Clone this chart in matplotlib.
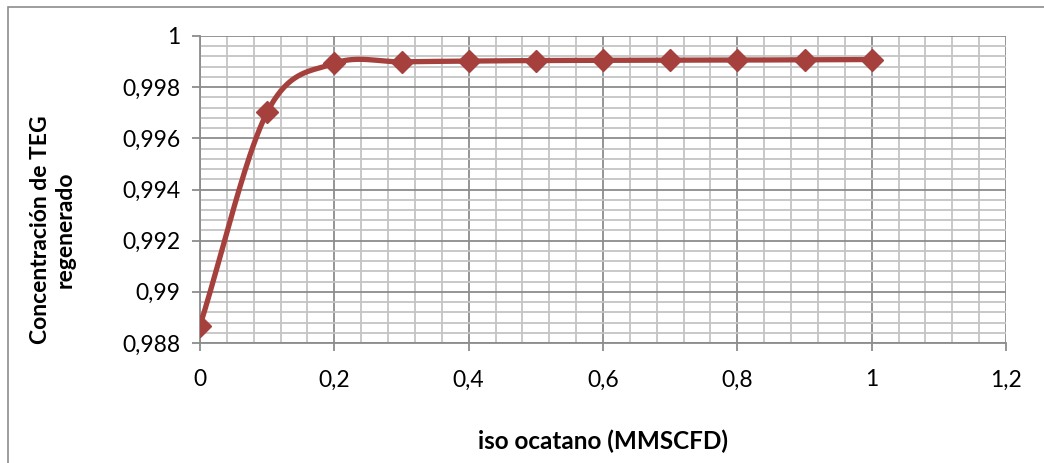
import numpy as np
import matplotlib
matplotlib.use("Agg")
import matplotlib.pyplot as plt
from matplotlib.ticker import FuncFormatter, MultipleLocator
from matplotlib.patches import Rectangle

plt.rcParams.update({"font.family": ["Lato", "DejaVu Sans"]})

# iso-octane flow vs regenerated TEG purity
iso_octano = [0.0, 0.1, 0.2, 0.3, 0.4, 0.5, 0.6, 0.7, 0.8, 0.9, 1.0]
conc_teg = [0.98868, 0.99702, 0.99893, 0.99899, 0.99902, 0.99904,
            0.99905, 0.99906, 0.99906, 0.99907, 0.99908]

RED = "#A5403D"
MAJOR = "#8C8C8C"
MINOR = "#C4C4C4"
W, H = 1044, 463


def smooth(x, y, n=40):
    # Catmull-Rom through the points, like a spreadsheet "smoothed line"
    x = np.asarray(x, float); y = np.asarray(y, float)
    px = np.concatenate([[2 * x[0] - x[1]], x, [2 * x[-1] - x[-2]]])
    py = np.concatenate([[2 * y[0] - y[1]], y, [2 * y[-1] - y[-2]]])
    xs, ys = [], []
    t = np.linspace(0, 1, n)
    for i in range(1, len(px) - 2):
        for p, out in ((px, xs), (py, ys)):
            p0, p1, p2, p3 = p[i - 1], p[i], p[i + 1], p[i + 2]
            out.extend(0.5 * ((2 * p1) + (-p0 + p2) * t
                              + (2 * p0 - 5 * p1 + 4 * p2 - p3) * t ** 2
                              + (-p0 + 3 * p1 - 3 * p2 + p3) * t ** 3))
    return xs, ys


def comma(v, pos):
    s = f"{v:.3f}".rstrip("0").rstrip(".")
    return s.replace(".", ",")


fig = plt.figure(figsize=(W / 100, H / 100), dpi=100)
fig.patches.append(Rectangle((8 / W, -0.01), 1.05, 1 - 7 / H + 0.01,
                             transform=fig.transFigure, fill=False,
                             edgecolor="#8C8C8C", linewidth=1.2))
ax = fig.add_axes([200 / W, 1 - 343 / H, 806 / W, 307 / H])

sx, sy = smooth(iso_octano, conc_teg)
ax.plot(sx, sy, color=RED, linewidth=3.8, solid_capstyle="round", zorder=3)
ax.plot(iso_octano, conc_teg, linestyle="none", marker="D", markersize=11,
        color=RED, zorder=4)

ax.set_xlim(0, 1.2)
ax.set_ylim(0.988, 1.0)
ax.xaxis.set_major_locator(MultipleLocator(0.2))
ax.xaxis.set_minor_locator(MultipleLocator(0.04))
ax.yaxis.set_major_locator(MultipleLocator(0.002))
ax.yaxis.set_minor_locator(MultipleLocator(0.0004))
ax.xaxis.set_major_formatter(FuncFormatter(comma))
ax.yaxis.set_major_formatter(FuncFormatter(comma))

ax.grid(True, which="minor", color=MINOR, linewidth=1.3)
ax.grid(True, which="major", color=MAJOR, linewidth=1.3)
ax.set_axisbelow(True)
for side in ("top", "right"):
    ax.spines[side].set_visible(False)
for side in ("left", "bottom"):
    ax.spines[side].set_color(MAJOR)
    ax.spines[side].set_linewidth(1.3)

ax.tick_params(which="major", length=6, width=1.3, color=MAJOR,
               labelsize=16.5, pad=8)
ax.tick_params(axis="x", which="major", pad=13)
ax.tick_params(which="minor", length=0)

# axis titles placed in figure pixels
fig.text(603 / W, 1 - 441 / H, "iso ocatano (MMSCFD)", fontsize=17.5,
         fontweight="bold", ha="center", va="center")
fig.text(53 / W, 1 - 230 / H, "Concentración de TEG\nregenerado",
         fontsize=16.5, fontweight="bold", rotation=90, ha="center",
         va="center", linespacing=1.2, multialignment="center")

fig.savefig("out.png", dpi=100)
